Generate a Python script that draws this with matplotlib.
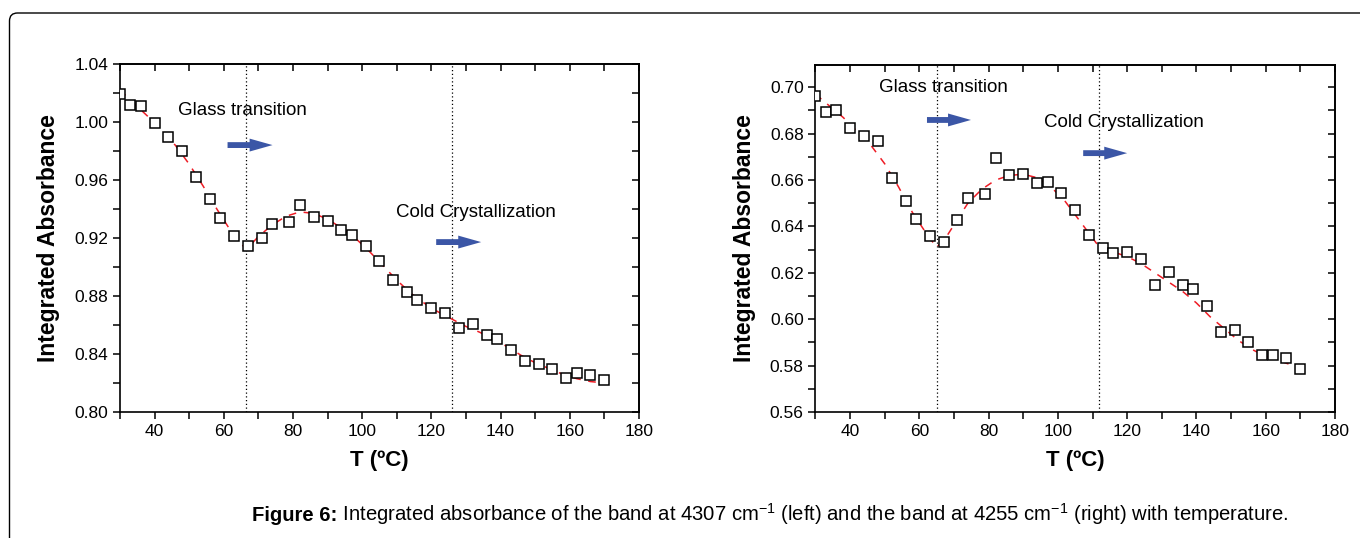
import matplotlib
matplotlib.use("Agg")
import matplotlib.pyplot as plt
from matplotlib.patches import FancyBboxPatch
from matplotlib.ticker import MultipleLocator
from matplotlib.transforms import IdentityTransform

plt.rcParams['font.family'] = ['Liberation Sans', 'DejaVu Sans']
plt.rcParams['mathtext.fontset'] = 'custom'
plt.rcParams['mathtext.rm'] = 'Liberation Sans'
plt.rcParams['mathtext.bf'] = 'Liberation Sans:bold'

# --- band at 4307 cm-1 (left panel) ---
t_left = [30, 33, 36, 40, 44, 48, 52, 56, 59, 63, 67, 71, 74, 79, 82, 86, 90, 94,
          97, 101, 105, 109, 113, 116, 120, 124, 128, 132, 136, 139, 143, 147,
          151, 155, 159, 162, 166, 170]
abs_left = [1.0195, 1.012, 1.011, 0.999, 0.990, 0.980, 0.962, 0.947, 0.934, 0.9216,
            0.9147, 0.920, 0.930, 0.931, 0.943, 0.9345, 0.932, 0.9257, 0.9223, 0.9143,
            0.904, 0.891, 0.883, 0.877, 0.872, 0.8685, 0.8577, 0.8605, 0.853, 0.8506,
            0.843, 0.835, 0.833, 0.830, 0.8237, 0.827, 0.8257, 0.822]
fit_t_left = [30, 34, 38, 42, 46, 50, 54, 58, 62, 66.5, 70, 74, 78, 82, 86, 90, 94,
              98, 102, 106, 110, 114, 118, 122, 126, 130, 134, 138, 142, 146, 150,
              154, 158, 162, 166, 170]
fit_abs_left = [1.022, 1.013, 1.004, 0.994, 0.984, 0.971, 0.956, 0.940, 0.925, 0.912,
                0.921, 0.929, 0.935, 0.938, 0.937, 0.933, 0.927, 0.920, 0.911, 0.901,
                0.891, 0.882, 0.875, 0.869, 0.864, 0.859, 0.855, 0.850, 0.845, 0.839,
                0.834, 0.830, 0.826, 0.823, 0.821, 0.820]
vlines_left = [66.5, 126]

# --- band at 4255 cm-1 (right panel) ---
t_right = [30, 33, 36, 40, 44, 48, 52, 56, 59, 63, 67, 71, 74, 79, 82, 86, 90, 94,
           97, 101, 105, 109, 113, 116, 120, 124, 128, 132, 136, 139, 143, 147,
           151, 155, 159, 162, 166, 170]
abs_right = [0.6964, 0.6892, 0.6902, 0.6823, 0.679, 0.6769, 0.661, 0.6509, 0.6433,
             0.6359, 0.6333, 0.6426, 0.6522, 0.6538, 0.6693, 0.6621, 0.6626, 0.6587,
             0.659, 0.6543, 0.6471, 0.6363, 0.6306, 0.6287, 0.6288, 0.6258, 0.6149,
             0.6202, 0.6147, 0.6131, 0.6056, 0.5946, 0.5953, 0.590, 0.5847, 0.5844,
             0.5834, 0.5787]
fit_t_right = [30, 34, 38, 42, 46, 50, 54, 58, 62, 65, 68, 71, 74, 78, 82, 86, 90,
               94, 98, 102, 106, 110, 112, 116, 120, 124, 128, 132, 136, 140, 144,
               148, 152, 156, 160, 164, 168, 171]
fit_abs_right = [0.697, 0.692, 0.687, 0.681, 0.675, 0.667, 0.657, 0.646, 0.637, 0.631,
                 0.636, 0.643, 0.650, 0.656, 0.660, 0.662, 0.6625, 0.661, 0.657, 0.651,
                 0.643, 0.635, 0.631, 0.629, 0.627, 0.624, 0.620, 0.616, 0.612, 0.607,
                 0.601, 0.596, 0.591, 0.587, 0.584, 0.582, 0.580, 0.579]
vlines_right = [65, 112]

arrow_blue = '#3b56a6'


def draw_panel(ax, t, a, ft, fa, vl, ylim, ymaj, ymin, labels):
    ax.plot(ft, fa, color='#ee1c25', lw=1.1, ls=(0, (5, 5)), zorder=2)
    ax.plot(t, a, ls='none', marker='s', ms=6.8, mfc='white', mec='black',
            mew=1.1, zorder=3)
    for v in vl:
        ax.axvline(v, color='black', lw=0.9, ls=(0, (1, 2)), zorder=1)
    ax.set_xlim(30, 180)
    ax.set_ylim(*ylim)
    ax.xaxis.set_major_locator(MultipleLocator(20))
    ax.xaxis.set_minor_locator(MultipleLocator(10))
    ax.yaxis.set_major_locator(MultipleLocator(ymaj))
    ax.yaxis.set_minor_locator(MultipleLocator(ymin))
    ax.yaxis.set_major_formatter(plt.FormatStrFormatter('%.2f'))
    for s in ax.spines.values():
        s.set_linewidth(1.2)
    ax.tick_params(which='both', direction='out', length=5, width=1.1,
                   labelsize=12.5, top=False, right=False)
    # inward ticks on the top and right frame
    sec_x = ax.secondary_xaxis('top')
    sec_x.xaxis.set_major_locator(MultipleLocator(10))
    sec_x.tick_params(direction='in', length=5, width=1.1, labeltop=False)
    sec_y = ax.secondary_yaxis('right')
    sec_y.yaxis.set_major_locator(MultipleLocator(ymin))
    sec_y.tick_params(direction='in', length=5, width=1.1, labelright=False)
    for s in list(sec_x.spines.values()) + list(sec_y.spines.values()):
        s.set_linewidth(1.2)
    ax.set_xlabel('T (ºC)', fontsize=16, fontweight='bold', labelpad=8)
    ax.set_ylabel('Integrated Absorbance', fontsize=16.5, fontweight='bold', labelpad=10)
    for txt, (x, y), (x0, x1, ya) in labels:
        ax.text(x, y, txt, fontsize=13.5, ha='left', va='center')
        ax.annotate('', xy=(x1, ya), xytext=(x0, ya),
                    arrowprops=dict(arrowstyle='simple,head_length=1.1,head_width=0.62,tail_width=0.28',
                                    fc=arrow_blue, ec='none', lw=0, mutation_scale=15,
                                    shrinkA=0, shrinkB=0))


fig = plt.figure(figsize=(13.6, 5.38), dpi=100)
ax1 = fig.add_axes([0.0882, 0.2342, 0.3816, 0.6468])
ax2 = fig.add_axes([0.5996, 0.2342, 0.3820, 0.6450])

draw_panel(ax1, t_left, abs_left, fit_t_left, fit_abs_left, vlines_left,
           (0.80, 1.04), 0.04, 0.02,
           [('Glass transition', (46.9, 1.0076), (61.1, 74.1, 0.9841)),
            ('Cold Crystallization', (109.9, 0.9379), (121.4, 134.4, 0.9172))])
draw_panel(ax2, t_right, abs_right, fit_t_right, fit_abs_right, vlines_right,
           (0.56, 0.7096), 0.02, 0.01,
           [('Glass transition', (48.4, 0.6997), (62.2, 74.9, 0.6859)),
            ('Cold Crystallization', (96.0, 0.6850), (107.3, 120.0, 0.6716))])

# caption: bold lead-in followed by the plain sentence
cap_y = 1 - 521 / 538
cap_x = 252 / 1360
lead = fig.text(cap_x, cap_y, 'Figure 6:', fontsize=14.6, fontweight='bold',
                ha='left', va='baseline')
renderer = fig.canvas.get_renderer()
lead_w = lead.get_window_extent(renderer).width / fig.bbox.width
fig.text(cap_x + lead_w, cap_y,
         r' Integrated absorbance of the band at 4307 cm$^{\mathrm{-1}}$ '
         r'(left) and the band at 4255 cm$^{\mathrm{-1}}$ (right) with temperature.',
         fontsize=14.6, ha='left', va='baseline')

# page frame with a rounded corner at the top left
frame = FancyBboxPatch((9.5, -20), 1400, 538 - 13 + 20,
                       boxstyle='round,pad=0,rounding_size=8',
                       transform=IdentityTransform(), fill=False,
                       edgecolor='black', lw=1.0)
fig.add_artist(frame)

fig.savefig('out.png', dpi=100)
